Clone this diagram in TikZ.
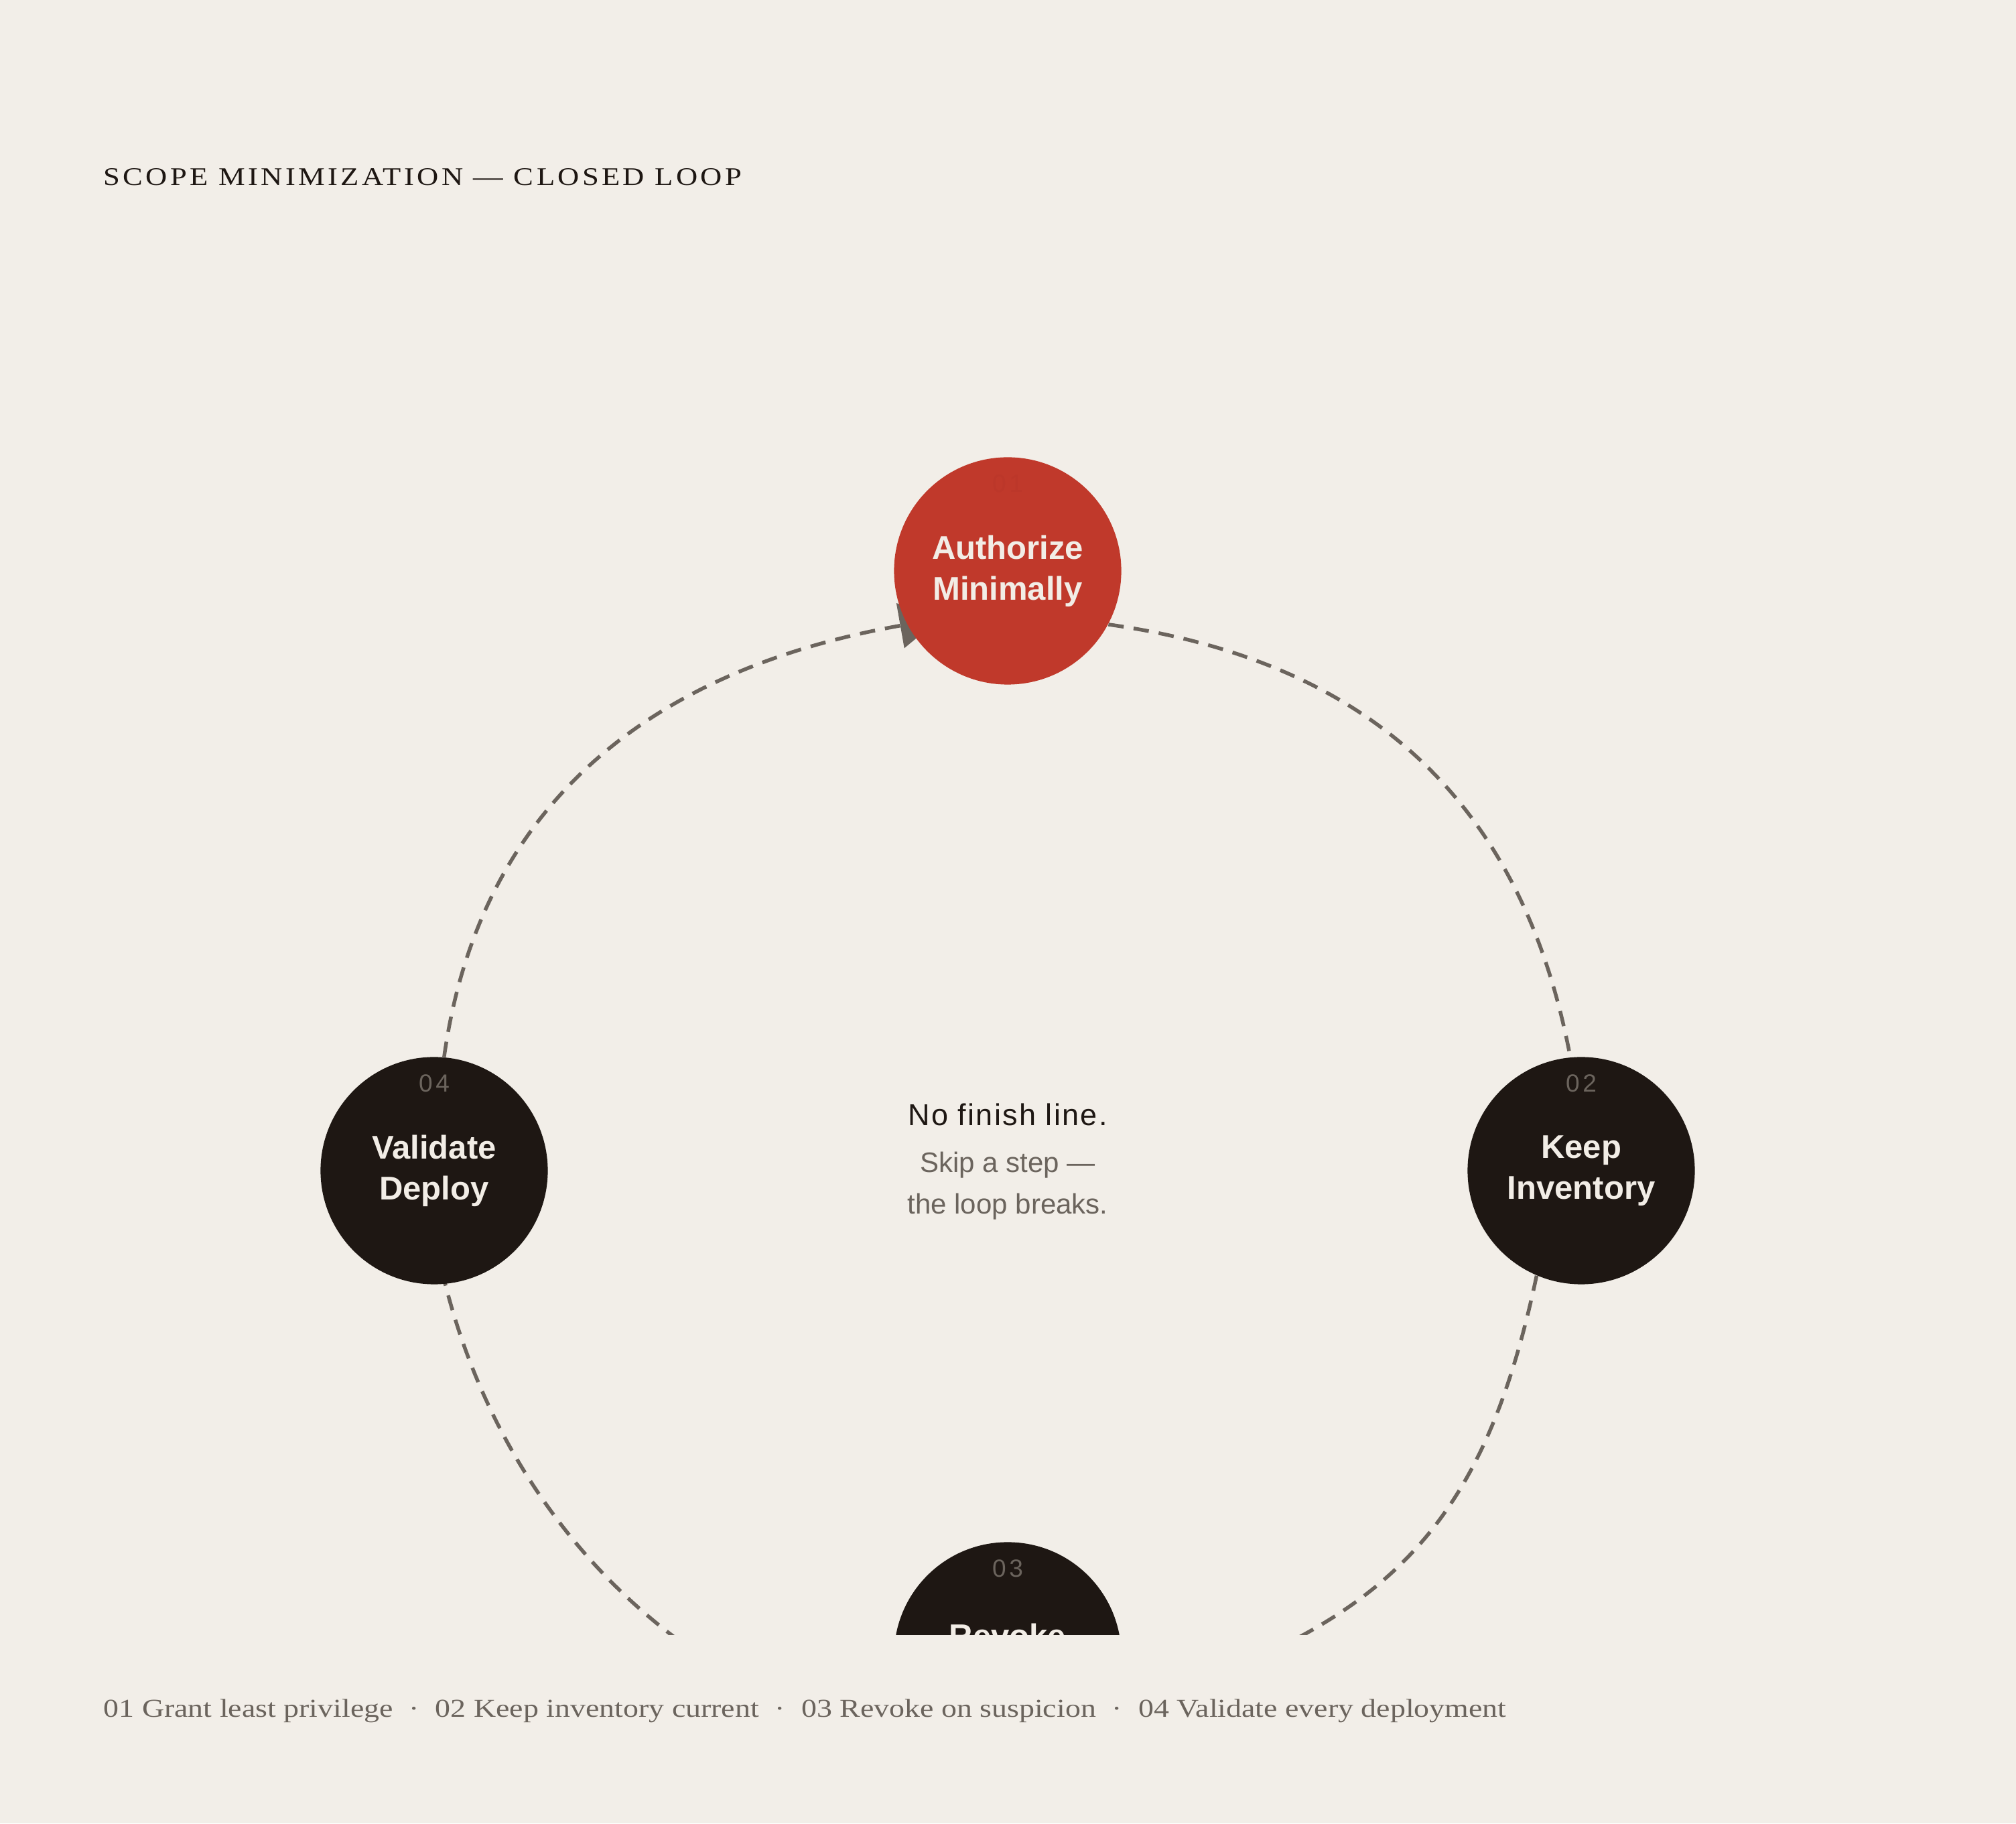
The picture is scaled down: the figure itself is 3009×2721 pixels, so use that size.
\documentclass[tikz,border=0pt]{standalone}
\usepackage{fontspec}
\setmainfont{Liberation Sans}
\newfontfamily\headf[LetterSpace=5]{Liberation Sans}
\newfontfamily\numf[LetterSpace=13]{Liberation Sans}
\newfontfamily\titlef[FakeStretch=1.18,LetterSpace=11.5]{Liberation Serif}
\newfontfamily\footf[FakeStretch=1.192]{Liberation Serif}
\usetikzlibrary{arrows.meta,calc}
\definecolor{bgc}{HTML}{F2EEE8}
\definecolor{redc}{HTML}{C0392B}
\definecolor{darkc}{HTML}{1E1713}
\definecolor{grayc}{HTML}{6B645D}
\definecolor{creamc}{HTML}{F2EDE6}
\definecolor{faintc}{HTML}{BC372A}
\pgfdeclarelayer{background}
\pgfsetlayers{background,main}
\tikzset{
  stepnode/.style={circle, minimum size=3.39cm, inner sep=0pt, text=creamc, align=center,
    font=\fontsize{13.94}{17.35}\selectfont\bfseries},
  numtxt/.style={anchor=base, inner sep=0pt, text=grayc, font=\numf\fontsize{10.53}{12}\selectfont},
  headtxt/.style={anchor=base, inner sep=0pt, text=darkc, font=\headf\fontsize{12.8}{15}\selectfont},
  subtxt/.style={anchor=base, inner sep=0pt, text=grayc, font=\fontsize{11.95}{14}\selectfont},
  titletxt/.style={anchor=base west, inner sep=0pt, text=darkc, font=\titlef\fontsize{10.75}{13}\selectfont},
  foottxt/.style={anchor=base west, inner sep=0pt, text=grayc, font=\footf\fontsize{10.95}{13}\selectfont},
  flow/.style={draw=grayc, line width=0.055cm, dash pattern=on 0.23cm off 0.15cm,
    -{Triangle[length=0.6cm, width=0.67cm]}}
}
\newcommand{\sepdot}{\hspace{6.8pt}·\hspace{6.8pt}}
\begin{document}
\begin{tikzpicture}[x=0.01cm,y=0.01cm]
\begin{pgfonlayer}{background}
\fill[bgc] (0,0) rectangle (3009,2721);
\end{pgfonlayer}
\useasboundingbox (0,0) rectangle (3009,2721);
\node[titletxt] (title) at (154,2444) {SCOPE MINIMIZATION — CLOSED LOOP};
\begin{scope}
\clip (0,281) rectangle (3009,2721);
\node[stepnode, fill=redc] (n1) at (1504,1869) {Authorize\\Minimally};
\node[stepnode, fill=darkc] (n2) at (2360,974) {Keep\\Inventory};
\node[stepnode, fill=darkc] (n3) at (1504,250) {Revoke\\\phantom{Revoke}};
\node[stepnode, fill=darkc] (n4) at (648,974) {Validate\\Deploy};
\node[numtxt, text=faintc] (k1) at ($(n1.center)+(0,117)$) {01};
\node[numtxt] (k2) at ($(n2.center)+(0,117)$) {02};
\node[numtxt] (k3) at ($(n3.center)+(0,117)$) {03};
\node[numtxt] (k4) at ($(n4.center)+(0,117)$) {04};
\end{scope}
\node[headtxt] (head) at (1504,1041) {No finish line.};
\node[subtxt] (sub1) at (1504,971) {Skip a step —};
\node[subtxt] (sub2) at (1504,909) {the loop breaks.};
\node[foottxt] (foot) at (154,158) {01 Grant least privilege\sepdot 02 Keep inventory current\sepdot 03 Revoke on suspicion\sepdot 04 Validate every deployment};
\begin{pgfonlayer}{background}
\begin{scope}
\clip (0,281) rectangle (3009,2721);
\draw[flow, shorten >=-0.5cm] (n4.85) .. controls +(82:384) and +(190:384) .. (n1.208);
\draw[flow, shorten >=-1.2cm] (n1.-28) .. controls +(-8:384) and +(98:390) .. (n2.95);
\draw[flow, shorten >=-1.2cm] (n2.247) .. controls +(258:412) and +(15:412) .. (n3.-29);
\draw[flow, shorten >=-1.2cm] (n3.231) .. controls +(173:360) and +(281:360) .. (n4.275);
\end{scope}
\end{pgfonlayer}
\end{tikzpicture}
\end{document}
